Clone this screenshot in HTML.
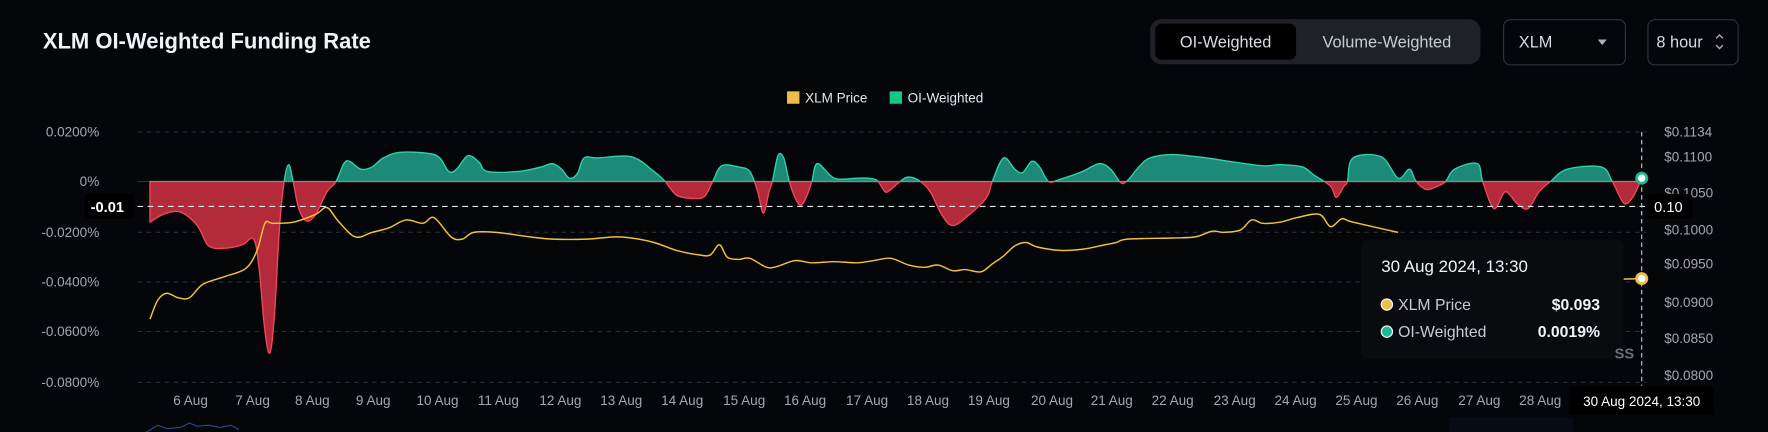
<!DOCTYPE html>
<html><head><meta charset="utf-8"><style>
html,body{margin:0;padding:0;background:#04060a;width:1768px;height:432px;overflow:hidden}
svg{display:block}
text{font-family:"Liberation Sans",sans-serif}
</style></head><body>
<svg width="1768" height="432" viewBox="0 0 1568 383" preserveAspectRatio="none" xmlns="http://www.w3.org/2000/svg">
<rect width="1568" height="383" fill="#04060a"/>
<text x="38" y="43" font-size="19.5" font-weight="bold" fill="#f1f3f7">XLM OI-Weighted Funding Rate</text>
<rect x="1020" y="17" width="293" height="40" rx="10" fill="#1e2126"/>
<rect x="1024.5" y="21" width="125" height="32" rx="6" fill="#000"/>
<text x="1087" y="42" font-size="14.5" fill="#d7dbe2" text-anchor="middle">OI-Weighted</text>
<text x="1230" y="42" font-size="14.5" fill="#c8ccd4" text-anchor="middle">Volume-Weighted</text>
<rect x="1333.5" y="17.5" width="108" height="40" rx="6" fill="none" stroke="#30343b"/>
<text x="1347" y="42" font-size="14.5" fill="#d7dbe2">XLM</text>
<path d="M1417 35 L1425 35 L1421 40 Z" fill="#aab0b8"/>
<rect x="1461.5" y="17.5" width="80" height="40" rx="6" fill="none" stroke="#30343b"/>
<text x="1469" y="42" font-size="14.5" fill="#d7dbe2">8 hour</text>
<path d="M1522 34 L1525 31 L1528 34 M1522 40 L1525 43 L1528 40" stroke="#aab0b8" fill="none" stroke-width="1.2"/>
<rect x="698" y="81" width="11" height="11" fill="#ecbc4c"/>
<text x="714" y="91" font-size="12" fill="#e5e7eb">XLM Price</text>
<rect x="789" y="81" width="11" height="11" fill="#17c684"/>
<text x="805" y="91" font-size="12" fill="#e5e7eb">OI-Weighted</text>
<g stroke="#2a2d33" stroke-dasharray="4 4" stroke-width="1">
<line x1="122" y1="117" x2="1460" y2="117"/>
<line x1="122" y1="206" x2="1460" y2="206"/>
<line x1="122" y1="250" x2="1460" y2="250"/>
<line x1="122" y1="294" x2="1460" y2="294"/>
<line x1="122" y1="339" x2="1460" y2="339"/>
</g>
<line x1="122" y1="161" x2="1460" y2="161" stroke="#2a2d33"/>
<g font-size="12" fill="#a3a8b0" text-anchor="end">
<text x="88" y="121">0.0200%</text>
<text x="88" y="165">0%</text>
<text x="88" y="210">-0.0200%</text>
<text x="88" y="254">-0.0400%</text>
<text x="88" y="298">-0.0600%</text>
<text x="88" y="343">-0.0800%</text>
</g>
<g font-size="12" fill="#a3a8b0">
<text x="1476" y="121">$0.1134</text>
<text x="1476" y="143">$0.1100</text>
<text x="1476" y="175">$0.1050</text>
<text x="1476" y="208">$0.1000</text>
<text x="1476" y="238">$0.0950</text>
<text x="1476" y="272">$0.0900</text>
<text x="1476" y="304">$0.0850</text>
<text x="1476" y="337">$0.0800</text>
</g>
<defs>
<clipPath id="up"><rect x="0" y="0" width="1568" height="161"/></clipPath>
<clipPath id="dn"><rect x="0" y="161" width="1568" height="300"/></clipPath>
<path id="fp" d="M133 161 L133 197 L145 190 L160 188 L175 200 L185 218 L200 220 L215 217 L225 212 L230 240 L234 285 L238 312 L241 305 L244 270 L248 200 L252 161 L256 146 L260 161 L265 185 L272 196 L280 190 L290 170 L298 161 L305 145 L310 143 L320 150 L330 148 L340 140 L355 135 L380 136 L390 140 L398 152 L405 150 L415 138 L425 144 L432 152 L460 152 L480 148 L490 145 L498 150 L505 158 L512 154 L518 140 L530 140 L560 139 L580 152 L590 161 L600 173 L615 176 L625 174 L632 161 L640 147 L655 148 L665 152 L672 170 L677 189 L682 170 L685 161 L690 138 L695 140 L700 161 L705 175 L710 182 L715 175 L720 161 L725 145 L740 158 L760 158 L770 158 L778 160 L785 170 L790 168 L797 162 L805 157 L815 160 L825 170 L835 190 L845 200 L860 190 L875 175 L880 161 L890 140 L900 150 L907 153 L915 143 L922 148 L930 161 L940 159 L960 152 L975 145 L985 150 L994 162 L1000 160 L1010 148 L1020 140 L1040 137 L1070 140 L1090 143 L1120 147 L1135 146 L1155 148 L1165 155 L1180 165 L1185 175 L1192 165 L1195 161 L1200 140 L1225 139 L1240 158 L1250 150 L1256 161 L1265 168 L1275 165 L1282 161 L1290 150 L1310 145 L1315 161 L1325 185 L1335 170 L1345 180 L1355 185 L1365 170 L1375 161 L1390 150 L1420 148 L1430 161 L1440 180 L1448 175 L1456 158 L1456 161 Z" stroke-linejoin="round"/>
</defs>
<use href="#fp" clip-path="url(#up)" fill="#1d8a77" stroke="#2fd3a8" stroke-width="1.2"/>
<use href="#fp" clip-path="url(#dn)" fill="#b32a3a" stroke="#f2475a" stroke-width="1.2"/>
<path id="price" fill="none" stroke="#f0c23a" stroke-width="1.3" stroke-linejoin="round" d="M133 283 L140 266 L148 260 L158 264 L168 264 L180 252 L200 245 L218 238 L228 222 L235 198 L242 198 L260 197 L280 190 L290 184 L300 196 L315 210 L330 206 L345 202 L360 195 L375 198 L385 193 L400 210 L410 212 L420 206 L440 206 L470 210 L490 212 L520 212 L545 210 L560 211 L580 215 L600 222 L620 226 L630 226 L638 217 L645 228 L655 230 L665 229 L680 237 L690 236 L705 231 L720 233 L740 232 L760 233 L775 231 L790 229 L806 235 L820 237 L832 235 L845 240 L856 239 L870 241 L880 234 L890 227 L900 218 L910 215 L920 219 L940 222 L960 221 L980 217 L990 215 L1000 212 L1040 211 L1060 210 L1075 205 L1085 206 L1100 204 L1110 195 L1120 198 L1135 197 L1150 193 L1170 190 L1180 201 L1190 194 L1200 197 L1240 206"/>
<polyline fill="none" stroke="#f0c23a" stroke-width="1.3" points="1438,247.5 1456,247"/>
<line x1="122" y1="183" x2="1460" y2="183" stroke="#e6e8ec" stroke-dasharray="5 4" stroke-width="1"/>
<line x1="1456" y1="117" x2="1456" y2="342" stroke="#c8ccd2" stroke-dasharray="4 3" stroke-width="1"/>
<rect x="75" y="172" width="43" height="22" rx="3" fill="#000"/>
<text x="110" y="188" font-size="13" font-weight="bold" fill="#fff" text-anchor="end">-0.01</text>
<rect x="1461" y="172" width="40" height="22" rx="3" fill="#000"/>
<text x="1467" y="188" font-size="13" fill="#fff">0.10</text>
<rect x="1207" y="212" width="233" height="106" rx="6" fill="#090b0f"/>
<text x="1225" y="241" font-size="15" fill="#f1f3f7">30 Aug 2024, 13:30</text>
<circle cx="1230" cy="270" r="5" fill="#ecbc4c" stroke="#fff" stroke-width="1"/>
<text x="1240" y="275" font-size="14" fill="#c8ccd4">XLM Price</text>
<text x="1419" y="275" font-size="14" font-weight="bold" fill="#f1f3f7" text-anchor="end">$0.093</text>
<circle cx="1230" cy="294" r="5" fill="#20b994" stroke="#fff" stroke-width="1"/>
<text x="1240" y="299" font-size="14" fill="#c8ccd4">OI-Weighted</text>
<text x="1419" y="299" font-size="14" font-weight="bold" fill="#f1f3f7" text-anchor="end">0.0019%</text>
<text x="1432" y="318" font-size="13" font-weight="bold" fill="#6b7078">SS</text>
<circle cx="1456" cy="158" r="4.5" fill="#fff" stroke="#20b994" stroke-width="2.5"/>
<circle cx="1456" cy="247" r="4.5" fill="#fff" stroke="#ecbc4c" stroke-width="2.5"/>
<g font-size="12" fill="#a3a8b0" text-anchor="middle">
<text x="169" y="359">6 Aug</text><text x="224" y="359">7 Aug</text><text x="277" y="359">8 Aug</text><text x="331" y="359">9 Aug</text>
<text x="388" y="359">10 Aug</text><text x="442" y="359">11 Aug</text><text x="497" y="359">12 Aug</text><text x="551" y="359">13 Aug</text>
<text x="605" y="359">14 Aug</text><text x="660" y="359">15 Aug</text><text x="714" y="359">16 Aug</text><text x="769" y="359">17 Aug</text>
<text x="823" y="359">18 Aug</text><text x="877" y="359">19 Aug</text><text x="933" y="359">20 Aug</text><text x="986" y="359">21 Aug</text>
<text x="1040" y="359">22 Aug</text><text x="1095" y="359">23 Aug</text><text x="1149" y="359">24 Aug</text><text x="1203" y="359">25 Aug</text>
<text x="1257" y="359">26 Aug</text><text x="1312" y="359">27 Aug</text><text x="1366" y="359">28 Aug</text>
</g>
<rect x="1392" y="343" width="128" height="25" rx="2" fill="#000"/>
<text x="1456" y="360" font-size="12" fill="#fff" text-anchor="middle">30 Aug 2024, 13:30</text>
<rect x="1285" y="370" width="110" height="13" fill="#060b16"/>
<polyline fill="none" stroke="#2a4a8a" stroke-width="1" points="130,383 140,377 148,380 160,379 168,375 175,378 185,377 195,379 205,377 212,381"/>
</svg>
<script>
function smooth(d, closedTail){
  var nums=d.match(/-?\d+(\.\d+)?/g).map(Number);var p=[];
  for(var i=0;i<nums.length;i+=2)p.push([nums[i],nums[i+1]]);
  var head=[],tail=[];
  if(closedTail){head=[p.shift()];tail=[p.pop()];}
  var s=(head.length?'M'+head[0][0]+' '+head[0][1]+' L':'M')+p[0][0]+' '+p[0][1];
  for(var i=0;i<p.length-1;i++){
    var p0=p[i-1]||p[i],p1=p[i],p2=p[i+1],p3=p[i+2]||p2;
    var c1x=p1[0]+(p2[0]-p0[0])/6,c1y=p1[1]+(p2[1]-p0[1])/6;
    var c2x=p2[0]-(p3[0]-p1[0])/6,c2y=p2[1]-(p3[1]-p1[1])/6;
    c1x=Math.min(Math.max(c1x,p1[0]),p2[0]);c2x=Math.min(Math.max(c2x,p1[0]),p2[0]);
    s+=' C'+c1x.toFixed(2)+' '+c1y.toFixed(2)+' '+c2x.toFixed(2)+' '+c2y.toFixed(2)+' '+p2[0]+' '+p2[1];
  }
  if(tail.length)s+=' L'+tail[0][0]+' '+tail[0][1]+' Z';
  return s;
}
try{
var fp=document.getElementById('fp');fp.setAttribute('d',smooth(fp.getAttribute('d'),true));
var pr=document.getElementById('price');pr.setAttribute('d',smooth(pr.getAttribute('d'),false));
}catch(e){}
</script>
</body></html>
